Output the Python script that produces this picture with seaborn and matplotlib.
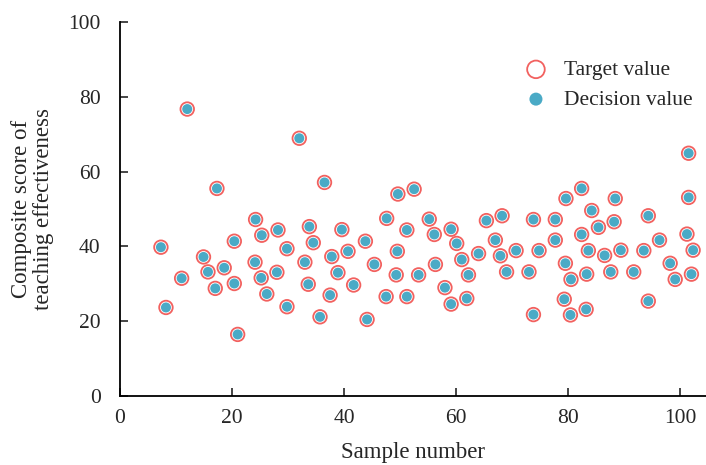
import pandas as pd
import numpy as np
import matplotlib
matplotlib.use('Agg')
import matplotlib.pyplot as plt
import seaborn as sns

# sample numbers and scores
sample = [7.3, 8.2, 11.0, 12.0, 14.9, 15.7, 17.0, 17.3, 18.6, 20.4,
          20.4, 21.0, 24.2, 24.1, 25.3, 25.2, 26.2, 28.2, 28.0, 29.8,
          29.8, 32.0, 33.0, 33.6, 33.8, 34.5, 35.7, 36.5, 37.5, 37.8,
          38.9, 39.6, 40.7, 41.7, 43.8, 44.1, 45.4, 47.5, 47.6, 49.3,
          49.5, 49.6, 51.2, 51.2, 52.5, 53.3, 55.2, 56.1, 56.3, 58.0,
          59.1, 59.1, 60.1, 61.0, 61.9, 62.2, 64.0, 65.4, 67.0, 67.9,
          68.2, 69.0, 70.7, 73.0, 73.8, 73.8, 74.8, 77.7, 77.7, 79.5,
          79.6, 79.3, 80.4, 80.5, 82.4, 82.4, 83.3, 83.2, 83.6, 84.2,
          85.4, 86.5, 87.6, 88.2, 88.4, 89.4, 91.7, 93.5, 94.3, 94.3,
          96.3, 98.2, 99.1, 101.2, 101.5, 101.5, 102.0, 102.3]
target = [39.8, 23.7, 31.5, 76.7, 37.2, 33.2, 28.8, 55.5, 34.3, 41.4,
          30.1, 16.5, 47.2, 35.8, 43.0, 31.6, 27.3, 44.4, 33.1, 39.4,
          23.9, 68.9, 35.8, 29.9, 45.3, 41.0, 21.2, 57.1, 27.0, 37.3,
          33.0, 44.5, 38.7, 29.7, 41.4, 20.5, 35.2, 26.6, 47.5, 32.4,
          38.7, 54.0, 44.4, 26.6, 55.3, 32.4, 47.3, 43.2, 35.2, 29.0,
          44.6, 24.6, 40.8, 36.5, 26.1, 32.4, 38.1, 46.9, 41.7, 37.5,
          48.2, 33.2, 38.9, 33.2, 47.2, 21.8, 38.9, 47.2, 41.7, 35.5,
          52.8, 25.9, 21.7, 31.2, 55.5, 43.2, 32.6, 23.2, 38.9, 49.6,
          45.1, 37.6, 33.2, 46.6, 52.8, 39.0, 33.2, 38.9, 48.2, 25.4,
          41.7, 35.5, 31.2, 43.3, 64.9, 53.1, 32.6, 39.0]
decision = target

df = pd.DataFrame({'sample': sample, 'target': target, 'decision': decision})

sns.set_style('ticks')
plt.rcParams['font.family'] = ['Liberation Serif', 'DejaVu Serif']

fig = plt.figure(figsize=(7.06, 4.65), dpi=100)
ax = fig.add_axes([0.170, 0.148, 0.830, 0.805])

sns.scatterplot(data=df, x='sample', y='target', ax=ax, s=95,
                facecolor='none', edgecolor='#f2615f', linewidth=1.3,
                label='Target value', zorder=2)
sns.scatterplot(data=df, x='sample', y='decision', ax=ax, s=52,
                color='#4aaac6', edgecolor='none',
                label='Decision value', zorder=3)

ax.set_xlim(0, 104.6)
ax.set_ylim(0, 100)
ax.set_xticks([0, 20, 40, 60, 80, 100])
ax.set_yticks([0, 20, 40, 60, 80, 100])
ax.tick_params(direction='in', length=6, width=1.2, labelsize=15.5)
ax.tick_params(axis='x', pad=9)
ax.tick_params(axis='y', pad=14)
for side in ['top', 'right']:
    ax.spines[side].set_visible(False)
for side in ['left', 'bottom']:
    ax.spines[side].set_linewidth(1.3)
    ax.spines[side].set_color('black')

ax.set_xlabel('Sample number', fontsize=16.5, labelpad=10)
ax.set_ylabel('Composite score of\nteaching effectiveness', fontsize=16.5,
              labelpad=10, linespacing=1.1)

ax.legend(loc='upper left', bbox_to_anchor=(0.64, 0.95), frameon=False,
          fontsize=15.5, handletextpad=0.3, labelspacing=0.45, markerscale=1.3)

fig.savefig('out.png', dpi=100)
